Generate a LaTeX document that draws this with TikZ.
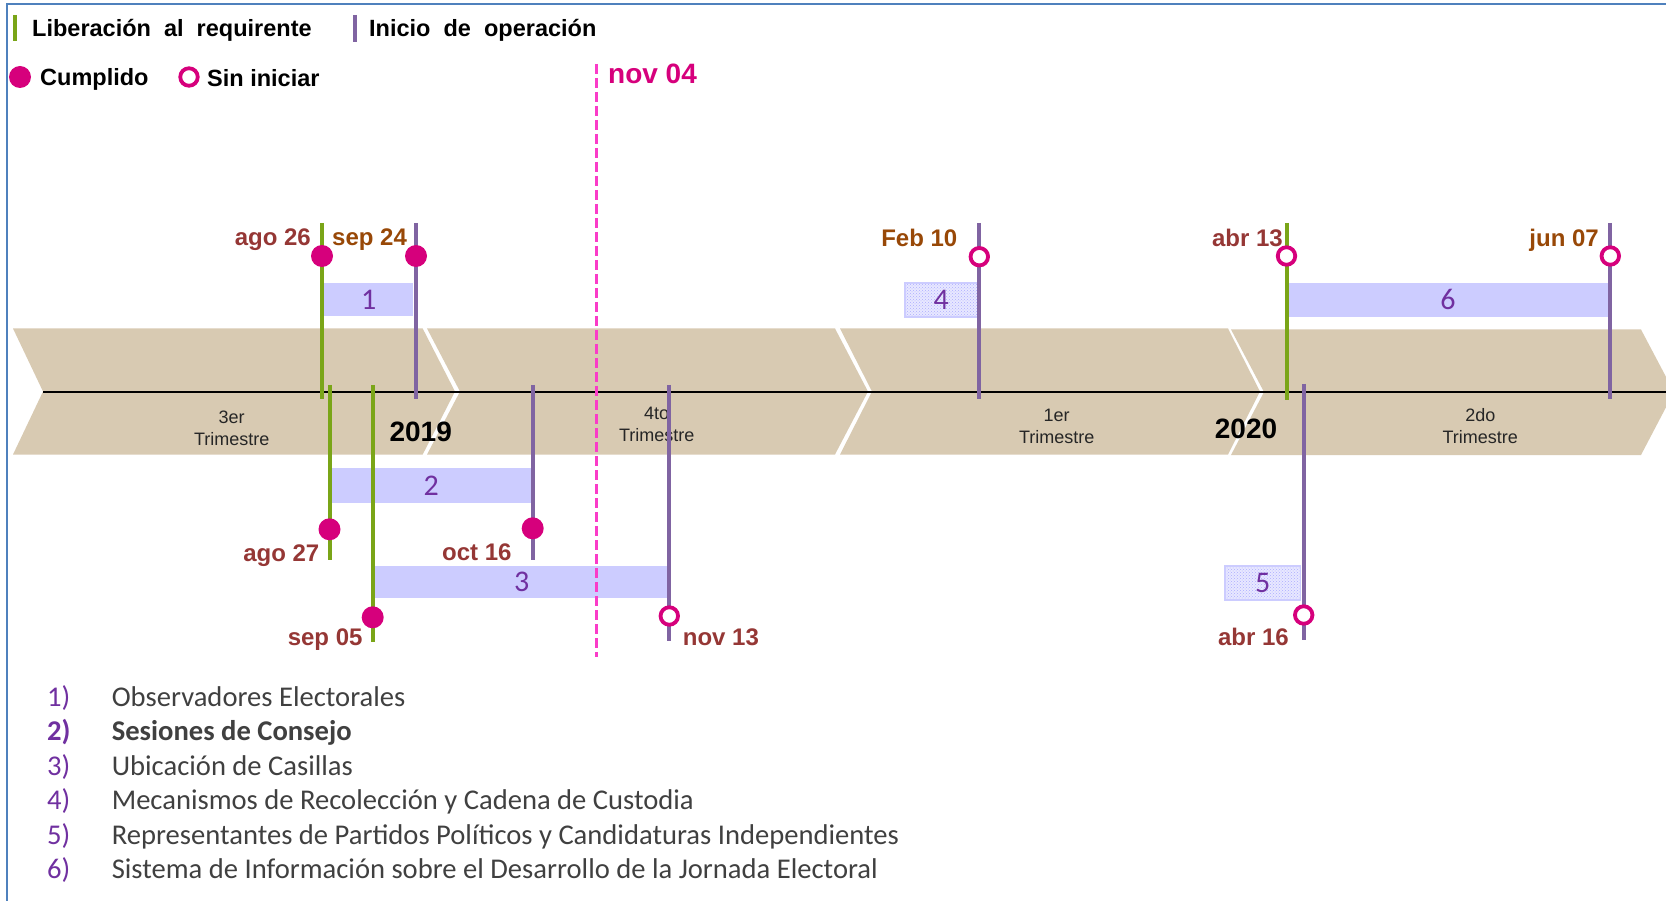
\documentclass[tikz,border=0pt]{standalone}
\usepackage{fontspec}
\setmainfont{Liberation Sans}
\newfontfamily\calibfont{Carlito}
\usetikzlibrary{positioning,patterns}
\definecolor{bandtan}{RGB}{216,202,178}
\definecolor{libgreen}{RGB}{122,165,24}
\definecolor{inipurple}{RGB}{128,100,162}
\definecolor{dotpink}{RGB}{214,0,124}
\definecolor{dashpink}{RGB}{250,60,200}
\definecolor{boxblue}{RGB}{204,204,255}
\definecolor{numpurple}{RGB}{112,48,160}
\definecolor{datered}{RGB}{149,55,53}
\definecolor{datebrown}{RGB}{152,72,7}
\definecolor{framecol}{RGB}{79,129,189}
\definecolor{listgray}{RGB}{64,64,64}
\definecolor{qtext}{RGB}{38,38,38}
\tikzset{
  band/.style={fill=bandtan, draw=none},
  libline/.style={libgreen, line width=4pt},
  iniline/.style={inipurple, line width=4pt},
  donedot/.style={circle, fill=dotpink, inner sep=0pt, minimum size=22pt},
  opendot/.style={circle, draw=dotpink, line width=3.8pt, fill=white, inner sep=0pt, minimum size=17.5pt},
  taskbar/.style={fill=boxblue, inner sep=0pt, font=\fontsize{30}{34}\calibfont, text=numpurple},
  taskbarhatch/.style={draw=boxblue, line width=1.2pt, preaction={fill=boxblue!45}, pattern=crosshatch dots, pattern color=boxblue!85!blue, inner sep=0pt, font=\fontsize{30}{34}\calibfont, text=numpurple},
  datelbl/.style={font=\fontsize{24}{28}\selectfont\bfseries, text=datered, inner sep=0pt},
  datelbl2/.style={datelbl, text=datebrown},
  legendlbl/.style={font=\fontsize{23.5}{28}\selectfont\bfseries, inner sep=0pt, anchor=base west},
  qlabel/.style={font=\fontsize{18}{22}\selectfont, text=qtext, align=center, inner sep=0pt},
  yearlbl/.style={font=\fontsize{28}{32}\selectfont\bfseries, inner sep=0pt, anchor=base},
  listnum/.style={font=\fontsize{28.6}{34}\calibfont, text=numpurple, anchor=base west, inner sep=0pt},
  listtxt/.style={font=\fontsize{28.6}{34}\calibfont, text=listgray, anchor=base west, inner sep=0pt}
}

\begin{document}
\begin{tikzpicture}[x=1pt, y=-1pt]
  \useasboundingbox (0,0) rectangle (1666,901);
  % frame
  \draw[framecol, line width=2pt] (7,901) -- (7,4) -- (1666,4);

  % quarters band
  \fill[band] (13,328.5) -- (422.7,328.5) -- (455,391.5) -- (422.7,454.5) -- (13,454.5) -- (43,391.5) -- cycle;
  \fill[band] (427,328.5) -- (835,328.5) -- (868,391.5) -- (835,454.5) -- (427,454.5) -- (460,391.5) -- cycle;
  \fill[band] (840,328.5) -- (1228,328.5) -- (1260,391.5) -- (1228,454.5) -- (840,454.5) -- (872,391.5) -- cycle;
  \fill[band] (1231,329.5) -- (1641,329.5) -- (1674,392) -- (1641,455) -- (1231,455) -- (1264,392) -- cycle;
  \coordinate (axisL) at (43,391.5);
  \coordinate (axisR) at (1666,391.5);
  \draw[black, line width=2pt] (axisL) -- (axisR);

  \node[qlabel] (q3) at (231.7,428) {3er\\Trimestre};
  \node[qlabel] (q4) at (656.7,424) {4to\\Trimestre};
  \node[qlabel] (q1) at (1056.7,426) {1er\\Trimestre};
  \node[qlabel] (q2) at (1480.3,426) {2do\\Trimestre};
  \node[yearlbl] (y2019) at (420.7,441.7) {2019};
  \node[yearlbl] (y2020) at (1246,438.3) {2020};

  % task bars
  \node[taskbar, minimum width=89.3pt, minimum height=32.7pt] (t1) at (368.7,299.7) {1};
  \node[taskbar, minimum width=199.3pt, minimum height=34.4pt] (t2) at (431.3,485.5) {2};
  \node[taskbar, minimum width=293.3pt, minimum height=32.3pt] (t3) at (521.7,582.2) {3};
  \node[taskbarhatch, minimum width=72.3pt, minimum height=34pt] (t4) at (941.2,300) {4};
  \node[taskbarhatch, minimum width=75.5pt, minimum height=34pt] (t5) at (1262.8,583) {5};
  \node[taskbar, minimum width=319.4pt, minimum height=33.7pt] (t6) at (1448,299.9) {6};

  % today
  \coordinate (nowT) at (596,64);
  \coordinate (nowB) at (596,657);
  \draw[dashpink, line width=3pt, dash pattern=on 10pt off 4pt] (nowT) -- (nowB);
  \node[datelbl, font=\fontsize{28}{32}\selectfont\bfseries, text=dotpink, anchor=base west] (nov04) at (608,84) {nov 04};

  % liberacion al requirente
  \coordinate (a26t) at (322,223);    \coordinate (a26b) at (322,399);
  \coordinate (a27t) at (329.5,385);  \coordinate (a27b) at (329.5,560);
  \coordinate (s05t) at (372.7,385);  \coordinate (s05b) at (372.7,642);
  \coordinate (a13t) at (1286.5,223); \coordinate (a13b) at (1286.5,400);
  \draw[libline] (a26t) -- (a26b);
  \draw[libline] (a27t) -- (a27b);
  \draw[libline] (s05t) -- (s05b);
  \draw[libline] (a13t) -- (a13b);

  % inicio de operacion
  \coordinate (s24t) at (416,223);    \coordinate (s24b) at (416,399);
  \coordinate (o16t) at (532.7,385);  \coordinate (o16b) at (532.7,560);
  \coordinate (n13t) at (669.3,385);  \coordinate (n13b) at (669.3,641);
  \coordinate (f10t) at (979.3,223);  \coordinate (f10b) at (979.3,399);
  \coordinate (a16t) at (1303.7,384); \coordinate (a16b) at (1303.7,640);
  \coordinate (j07t) at (1610.3,223); \coordinate (j07b) at (1610.3,399);
  \draw[iniline] (s24t) -- (s24b);
  \draw[iniline] (o16t) -- (o16b);
  \draw[iniline] (n13t) -- (n13b);
  \draw[iniline] (f10t) -- (f10b);
  \draw[iniline] (a16t) -- (a16b);
  \draw[iniline] (j07t) -- (j07b);

  % milestones
  \node[donedot] (m26) at (322,256) {};
  \node[donedot] (m24) at (416,256) {};
  \node[donedot] (m27) at (329.5,529.3) {};
  \node[donedot] (m16) at (532.7,528.3) {};
  \node[donedot] (m05) at (372.7,617.3) {};
  \node[opendot] (m13) at (669.3,616) {};
  \node[opendot] (mf10) at (979.3,256.7) {};
  \node[opendot] (ma13) at (1286.5,256) {};
  \node[opendot] (mj07) at (1610.3,256) {};
  \node[opendot] (ma16) at (1303.7,615) {};

  \node[datelbl, anchor=base east] (l26) at (311,246) {ago 26};
  \node[datelbl2, anchor=base west] (l24) at (332,246) {sep 24};
  \node[datelbl2, anchor=base east] (lf10) at (957.5,247) {Feb 10};
  \node[datelbl, anchor=base east] (la13) at (1283,247) {abr 13};
  \node[datelbl2, anchor=base east] (lj07) at (1599,247) {jun 07};
  \node[datelbl, anchor=base east] (l27) at (319.5,561.5) {ago 27};
  \node[datelbl, anchor=base east] (l16) at (511.7,560) {oct 16};
  \node[datelbl, anchor=base east] (l05) at (362.7,645) {sep 05};
  \node[datelbl, anchor=base west] (l13) at (682.7,645) {nov 13};
  \node[datelbl, anchor=base east] (la16) at (1289,645) {abr 16};

  % legend
  \coordinate (lgLt) at (15,15);  \coordinate (lgLb) at (15,41);
  \coordinate (lgIt) at (355,15); \coordinate (lgIb) at (355,42);
  \draw[libline, line width=3.5pt] (lgLt) -- (lgLb);
  \draw[iniline, line width=3.5pt] (lgIt) -- (lgIb);
  \node[legendlbl] (liblbl) at (32,37) {Liberación~ al~ requirente};
  \node[legendlbl] (inilbl) at (369,37) {Inicio~ de~ operación};
  \node[donedot] (lgdone) at (20,77) {};
  \node[legendlbl] (donelbl) at (40,86) {Cumplido};
  \node[opendot] (lgopen) at (189,77) {};
  \node[legendlbl] (openlbl) at (207,87) {Sin iniciar};

  % list of activities
  \node[listnum] (n1) at (47,706) {1)};
  \node[listtxt] (i1) at (111.6,706) {Observadores Electorales};
  \node[listnum, font=\fontsize{28.6}{34}\calibfont\bfseries] (n2) at (47,740.5) {2)};
  \node[listtxt, font=\fontsize{28.6}{34}\calibfont\bfseries] (i2) at (111.6,740.5) {Sesiones de Consejo};
  \node[listnum] (n3) at (47,775) {3)};
  \node[listtxt] (i3) at (111.6,775) {Ubicación de Casillas};
  \node[listnum] (n4) at (47,809) {4)};
  \node[listtxt] (i4) at (111.6,809) {Mecanismos de Recolección y Cadena de Custodia};
  \node[listnum] (n5) at (47,844) {5)};
  \node[listtxt] (i5) at (111.6,844) {Representantes de Partidos Políticos y Candidaturas Independientes};
  \node[listnum] (n6) at (47,878) {6)};
  \node[listtxt] (i6) at (111.6,878) {Sistema de Información sobre el Desarrollo de la Jornada Electoral};
\end{tikzpicture}
\end{document}
